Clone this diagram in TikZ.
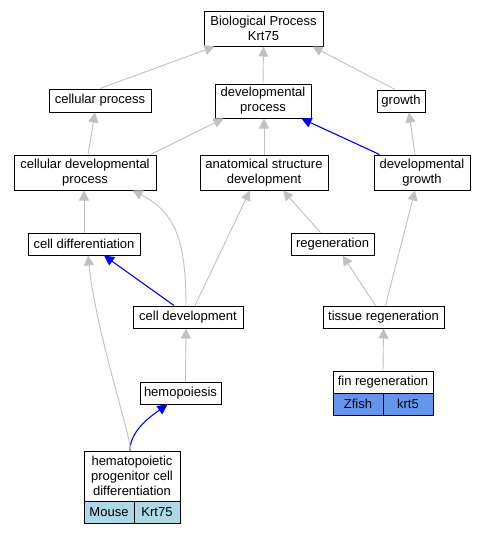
\documentclass[tikz,border=0pt]{standalone}
\usepackage{fontspec}
\setmainfont{Liberation Sans}
\usetikzlibrary{arrows.meta,calc}
\definecolor{edgegray}{RGB}{192,192,192}
\definecolor{mouseblue}{RGB}{173,216,230}
\definecolor{fishblue}{RGB}{100,149,237}
\begin{document}
\begin{tikzpicture}[x=1pt,y=-1pt,
  box/.style={draw=black,line width=1pt,fill=white,rectangle,inner sep=0pt,align=center,
    font=\fontsize{13}{15}\selectfont},
  cell/.style={box,minimum height=22pt},
  gedge/.style={draw=edgegray,line width=0.9pt,-{Triangle[length=10pt,width=10pt]}},
  bedge/.style={draw=blue,line width=1.1pt,-{Triangle[length=10pt,width=10pt]}}]
\useasboundingbox (0,0) rectangle (484,533);
% nodes
\node[box,minimum width=119pt,minimum height=35pt] (bp) at (263.5,28.5) {Biological Process\\Krt75};
\node[box,minimum width=102pt,minimum height=23pt] (cp) at (100,100.5) {cellular process};
\node[box,minimum width=96pt,minimum height=34pt] (dp) at (263,101) {developmental\\process};
\node[box,minimum width=48pt,minimum height=22pt] (gr) at (401,101) {growth};
\node[box,minimum width=142pt,minimum height=35pt] (cdp) at (85,172.5) {cellular developmental\\process};
\node[box,minimum width=128pt,minimum height=35pt] (asd) at (264,172.5) {anatomical structure\\development};
\node[box,minimum width=96pt,minimum height=35pt] (dg) at (422,172.5) {developmental\\growth};
\node[box,minimum width=112pt,minimum height=22pt] (cdiff) at (84,244) {cell differentiation};
\node[box,minimum width=83pt,minimum height=22pt] (reg) at (332.5,244) {regeneration};
\node[box,minimum width=110pt,minimum height=22pt] (cdev) at (188,317) {cell development};
\node[box,minimum width=121pt,minimum height=22pt] (treg) at (383.5,317) {tissue regeneration};
\node[box,minimum width=81pt,minimum height=22pt] (hem) at (180.5,393) {hemopoiesis};
% fin regeneration record
\node[box,minimum width=100pt,minimum height=22pt] (fin) at (383,382) {fin regeneration};
\node[cell,fill=fishblue,minimum width=50pt] (finA) at (358,404) {Zfish};
\node[cell,fill=fishblue,minimum width=50pt] (finB) at (408,404) {krt5};
% hematopoietic record
\node[box,minimum width=96pt,minimum height=50pt] (hpcd) at (132,476) {hematopoietic\\progenitor cell\\differentiation};
\node[cell,fill=mouseblue,minimum width=50pt] (hpcdA) at (109,512) {Mouse};
\node[cell,fill=mouseblue,minimum width=46pt] (hpcdB) at (157,512) {Krt75};
% edges
\draw[gedge] (cp.north) -- ($(bp.south west)+(11,0)$);
\draw[gedge] (dp.north) -- (bp.south);
\draw[gedge] ($(gr.north)+(-6,0)$) -- ($(bp.south east)+(-11,0)$);
\draw[gedge] ($(cdp.north)+(3,0)$) -- ($(cp.south)+(-5,0)$);
\draw[gedge] ($(cdp.north east)+(-6,0)$) -- ($(dp.south west)+(9,0)$);
\draw[gedge] (asd.north) -- ($(dp.south)+(1,0)$);
\draw[bedge] ($(dg.north west)+(6,0)$) -- ($(dp.south east)+(-10,0)$);
\draw[gedge] ($(dg.north)+(-7,0)$) -- ($(gr.south)+(8,0)$);
\draw[gedge] (cdiff.north) -- ($(cdp.south)+(-1,0)$);
\draw[gedge] ($(reg.north)+(-12,0)$) -- ($(asd.south)+(19,0)$);
\draw[bedge] ($(cdev.north)+(-14,0)$) -- ($(cdiff.south)+(20,0)$);
\draw[gedge] ($(cdev.north)+(-2,0)$) .. controls (186,240) and (175,212) .. ($(cdp.south east)+(-24,0)$);
\draw[gedge] ($(cdev.north)+(7,0)$) -- ($(asd.south)+(-14,0)$);
\draw[gedge] ($(treg.north)+(-8,0)$) -- ($(reg.south)+(10,0)$);
\draw[gedge] ($(treg.north)+(2,0)$) -- ($(dg.south)+(-7,0)$);
\draw[gedge] (fin.north) -- (treg.south);
\draw[gedge] ($(hem.north)+(5,0)$) -- ($(cdev.south)+(-2,0)$);
\draw[bedge] ($(hpcd.north)+(-2,0)$) .. controls (130,432) and (148,418) .. ($(hem.south)+(-13,0)$);
\draw[gedge] ($(hpcd.north)+(-1,0)$) .. controls (126,420) and (96,330) .. ($(cdiff.south)+(4,0)$);
\end{tikzpicture}
\end{document}
